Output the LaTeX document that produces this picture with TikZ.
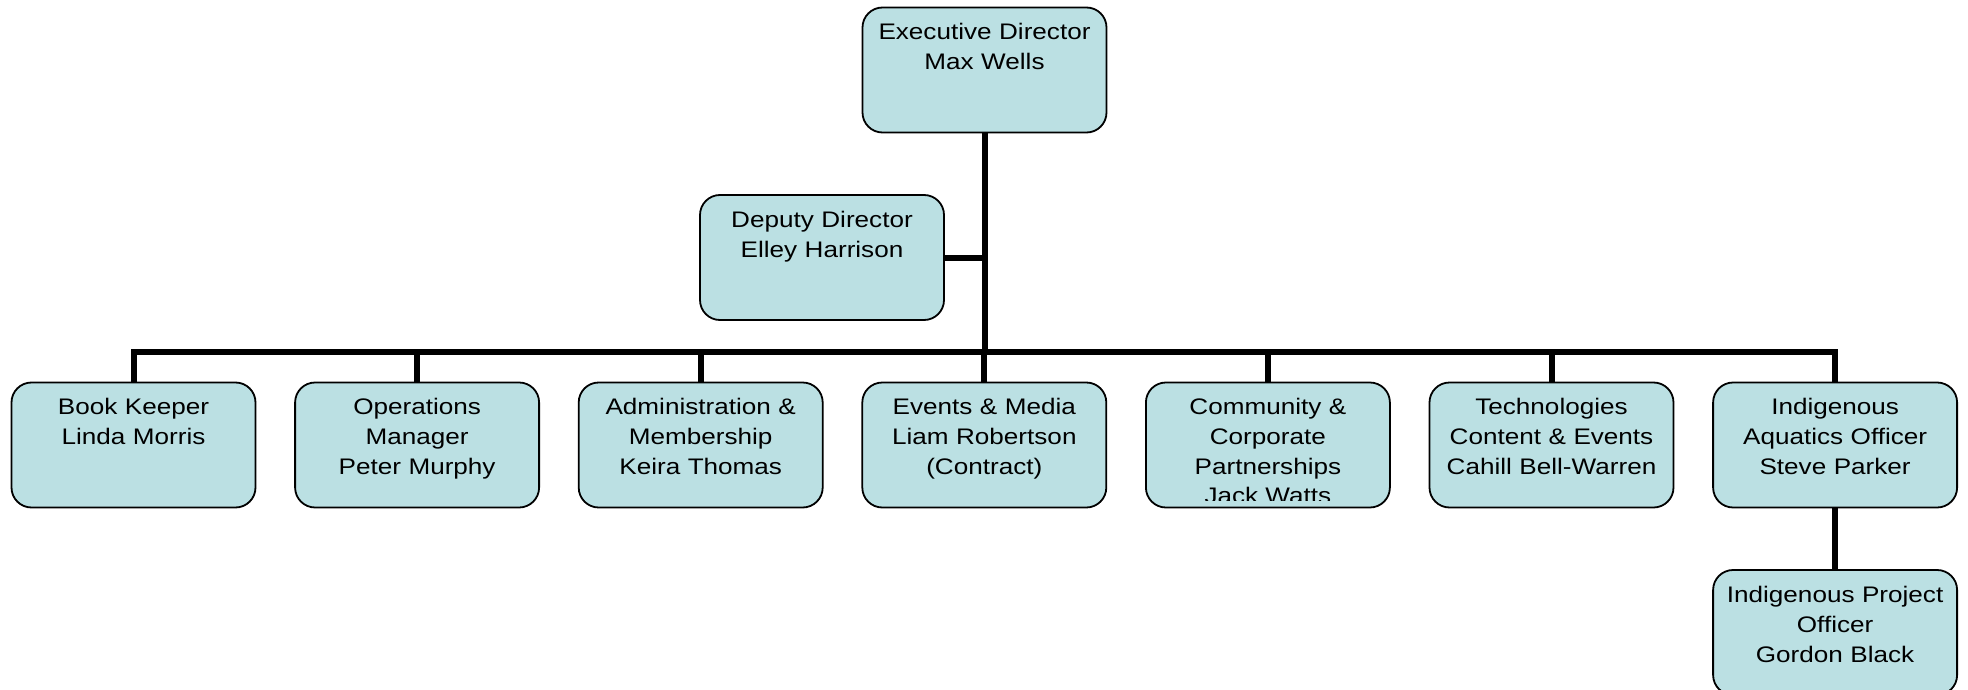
\documentclass[tikz,border=0pt]{standalone}
\usepackage{fontspec}
\setmainfont{Liberation Sans}[FakeStretch=1.16]
\definecolor{postfill}{HTML}{BBE0E3}

\begin{document}
\begin{tikzpicture}[x=1pt, y=1pt, every node/.style={font=\fontsize{22.5}{30}\selectfont},
    post/.style={rectangle, rounded corners=20pt, draw, line width=1.8pt, fill=postfill,
      minimum width=244pt, minimum height=125pt, inner sep=0pt,
      text width=240pt, align=center, text height=32pt, text depth=93pt},
    link/.style={line width=6pt}]
    \useasboundingbox (0,0) rectangle (1968,-690);
    \clip (0,0) rectangle (1968,-690);

    \node[post] (exec) at (984.5,-70) {Executive Director\\Max Wells};
    \node[post] (deputy) at (822,-257.5) {Deputy Director\\Elley Harrison};

    \node[post] (keeper) at (133.5,-445) {Book Keeper\\Linda Morris};
    \node[post] (ops) at (417.1,-445) {Operations\\Manager\\Peter Murphy};
    \node[post] (admin) at (700.7,-445) {Administration \&\\Membership\\Keira Thomas};
    \node[post] (events) at (984.3,-445) {Events \& Media\\Liam Robertson\\(Contract)};
    \node[post] (community) at (1267.9,-445) {Community \&\\Corporate\\Partnerships};
    \node[post] (tech) at (1551.5,-445) {Technologies\\Content \& Events\\Cahill Bell-Warren};
    \node[post] (aquatics) at (1835.1,-445) {Indigenous\\Aquatics Officer\\Steve Parker};
    \node[post] (gordon) at (1835.1,-632.5) {Indigenous Project\\Officer\\Gordon Black};

    % last line runs past the box text area
    \begin{scope}
      \clip (community.north west) rectangle ([yshift=8pt]community.south east);
      \node[anchor=base, inner sep=0pt] (jack) at ([yshift=-122pt]community.north) {Jack Watts};
    \end{scope}

    \coordinate (bus) at (0,-351.5);
    \draw[link] (exec.south) |- (deputy.east);
    \foreach \post in {keeper, ops, admin, events, community, tech, aquatics}
      \draw[link] (exec.south) |- (bus -| \post.north) -- (\post.north);
    \draw[link] (aquatics.south) -- (gordon.north);
\end{tikzpicture}
\end{document}
